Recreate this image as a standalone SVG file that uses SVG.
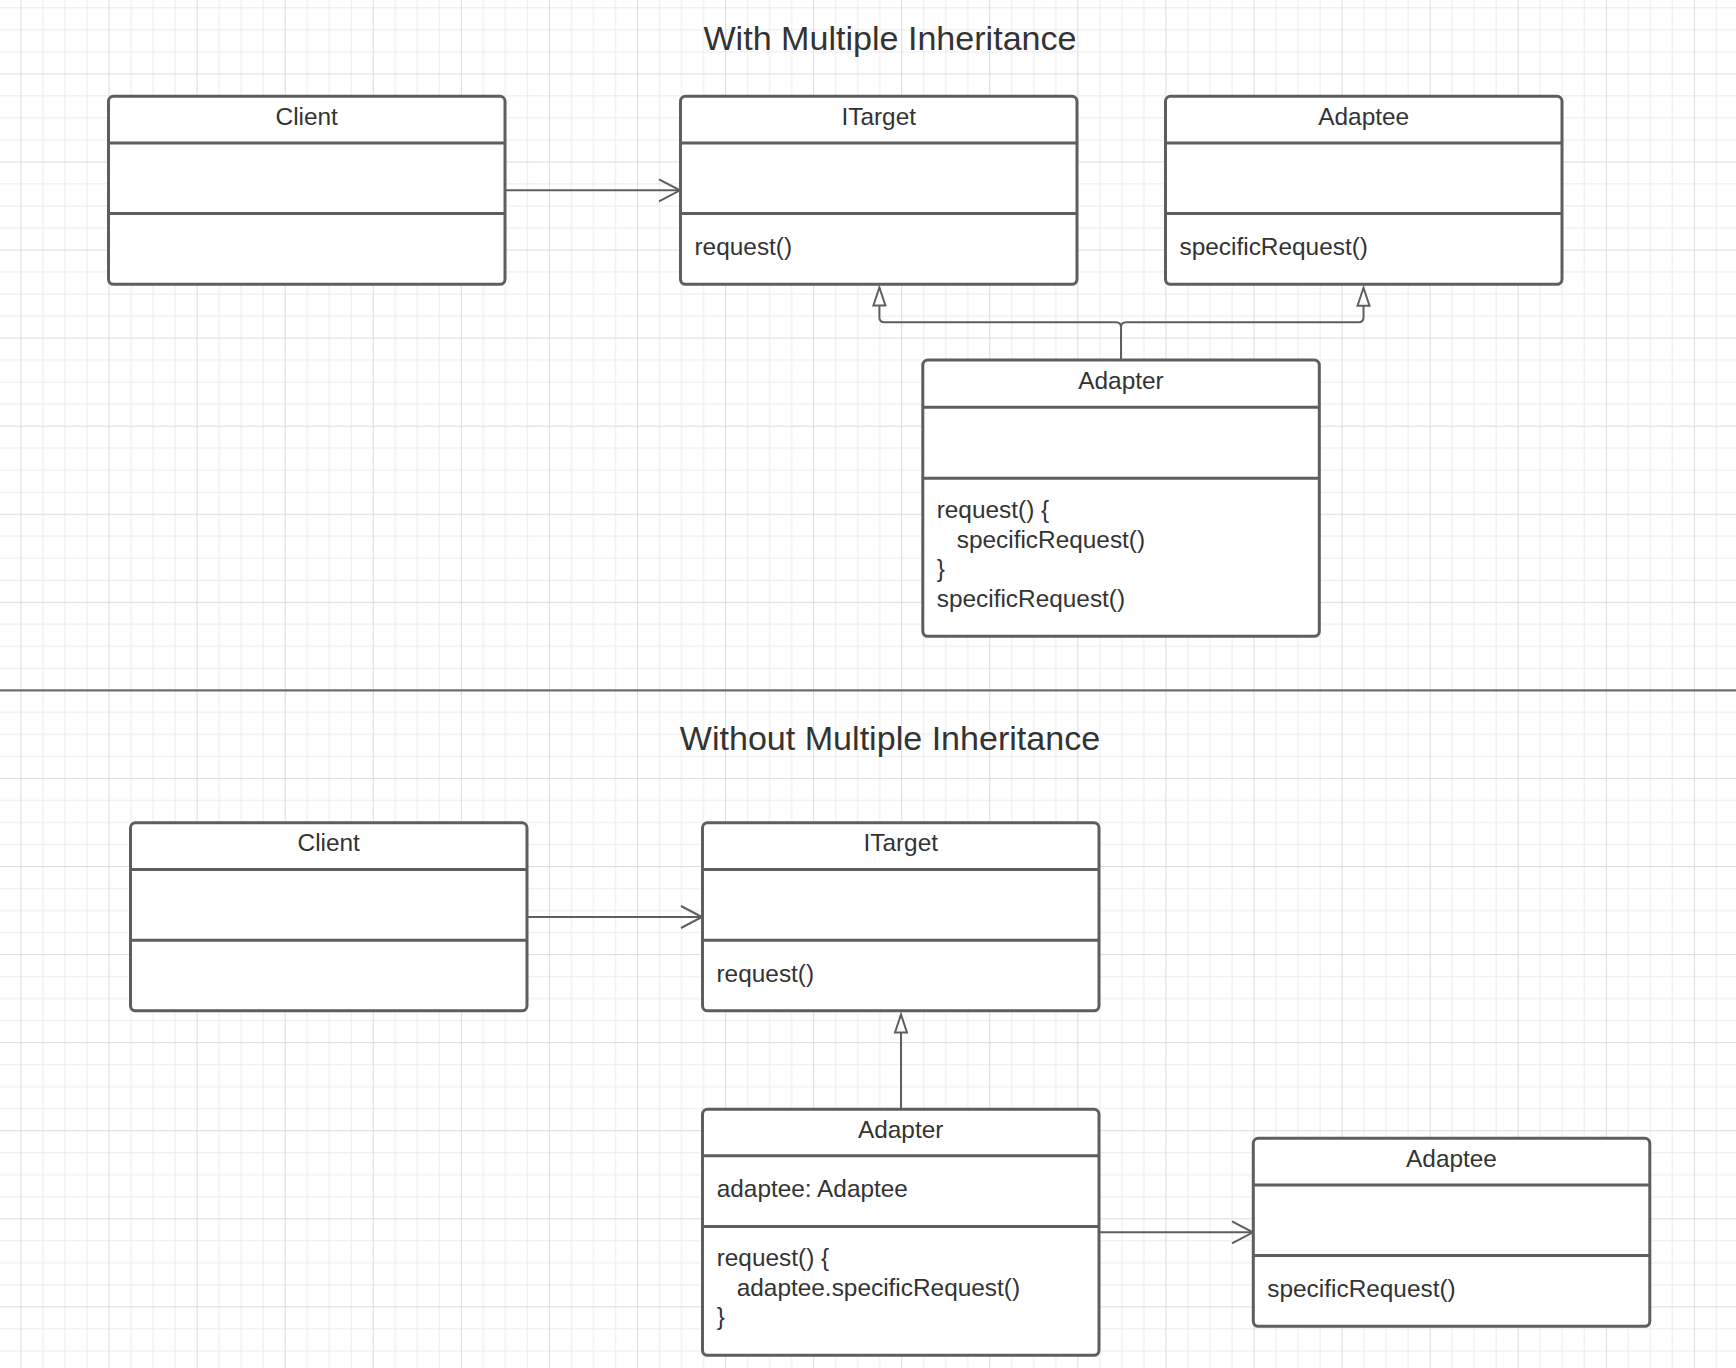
<svg xmlns="http://www.w3.org/2000/svg" width="1736" height="1368" viewBox="0 0 1736 1368">
<style>
  .box { fill: #ffffff; stroke: #5e5e5e; stroke-width: 3; }
  .sep { stroke: #5e5e5e; stroke-width: 3; }
  .hdr { font-family: "Liberation Sans", Arial, sans-serif; font-size: 24.4px; fill: #333333; text-anchor: middle; }
  .txt { font-family: "Liberation Sans", Arial, sans-serif; font-size: 24.4px; fill: #333333; }
  .title { font-family: "Liberation Sans", Arial, sans-serif; font-size: 34.1px; fill: #333333; text-anchor: middle; }
  .conn { fill: none; stroke: #5e5e5e; stroke-width: 2; }
</style>
<defs>
  <pattern id="grid" patternUnits="userSpaceOnUse" x="20.5" y="-14.7" width="88.07" height="88.07">
    <rect x="0" y="0" width="88.07" height="88.07" fill="#ffffff"/>
    <g fill="#ececec">
      <rect x="22.02" y="0" width="1" height="88.07"/>
      <rect x="44.03" y="0" width="1" height="88.07"/>
      <rect x="66.05" y="0" width="1" height="88.07"/>
      <rect x="0" y="22.02" width="88.07" height="1"/>
      <rect x="0" y="44.03" width="88.07" height="1"/>
      <rect x="0" y="66.05" width="88.07" height="1"/>
    </g>
    <g fill="#dcdcdc">
      <rect x="0" y="0" width="1" height="88.07"/>
      <rect x="0" y="0" width="88.07" height="1"/>
    </g>
  </pattern>
  <marker id="open" viewBox="-25 -15 30 30" refX="0" refY="0" markerWidth="30" markerHeight="30" markerUnits="userSpaceOnUse" orient="auto">
    <path d="M-21,-11 L0,0 L-21,11" fill="none" stroke="#5e5e5e" stroke-width="2"/>
  </marker>
  <marker id="tri" viewBox="-3 -10 26 20" refX="0" refY="0" markerWidth="26" markerHeight="20" markerUnits="userSpaceOnUse" orient="auto">
    <path d="M0,-6 L18,0 L0,6 Z" fill="#ffffff" stroke="#5e5e5e" stroke-width="2" stroke-linejoin="miter"/>
  </marker>
</defs>

<rect x="0" y="0" width="1736" height="1368" fill="url(#grid)"/>

<text class="title" x="890" y="50">With Multiple Inheritance</text>
<line x1="0" y1="690.3" x2="1736" y2="690.3" stroke="#6e6e6e" stroke-width="2.3"/>
<text class="title" x="890" y="749.5">Without Multiple Inheritance</text>

<g id="connectors">
  <path class="conn" d="M505,190.3 H680" marker-end="url(#open)"/>
  <path class="conn" d="M1121,360 V327.3 Q1121,322.3 1116,322.3 H884.4 Q879.4,322.3 879.4,317.3 V305.5" marker-end="url(#tri)"/>
  <path class="conn" d="M1121,360 V327.3 Q1121,322.3 1126,322.3 H1358.5 Q1363.5,322.3 1363.5,317.3 V305.8" marker-end="url(#tri)"/>
  <path class="conn" d="M527,917 H702" marker-end="url(#open)"/>
  <path class="conn" d="M901,1109 V1032.5" marker-end="url(#tri)"/>
  <path class="conn" d="M1099,1232.3 H1253" marker-end="url(#open)"/>
</g>

<g id="client1">
  <rect class="box" x="108.5" y="96.3" width="396.5" height="188" rx="5"/>
  <line class="sep" x1="108.5" y1="143" x2="505" y2="143"/>
  <line class="sep" x1="108.5" y1="213.5" x2="505" y2="213.5"/>
  <text class="hdr" x="306.7" y="125">Client</text>
</g>

<g id="itarget1">
  <rect class="box" x="680.5" y="96.3" width="396.5" height="188" rx="5"/>
  <line class="sep" x1="680.5" y1="143" x2="1077" y2="143"/>
  <line class="sep" x1="680.5" y1="213.5" x2="1077" y2="213.5"/>
  <text class="hdr" x="878.7" y="125">ITarget</text>
  <text class="txt" x="694.5" y="255">request()</text>
</g>

<g id="adaptee1">
  <rect class="box" x="1165.5" y="96.3" width="396.5" height="188" rx="5"/>
  <line class="sep" x1="1165.5" y1="143" x2="1562" y2="143"/>
  <line class="sep" x1="1165.5" y1="213.5" x2="1562" y2="213.5"/>
  <text class="hdr" x="1363.7" y="125">Adaptee</text>
  <text class="txt" x="1179.5" y="255">specificRequest()</text>
</g>

<g id="adapter1">
  <rect class="box" x="922.8" y="360" width="396.5" height="276.3" rx="5"/>
  <line class="sep" x1="922.8" y1="407.3" x2="1319.3" y2="407.3"/>
  <line class="sep" x1="922.8" y1="478.3" x2="1319.3" y2="478.3"/>
  <text class="hdr" x="1121" y="388.5">Adapter</text>
  <text class="txt" x="936.7" y="518">request() {</text>
  <text class="txt" x="956.7" y="547.5">specificRequest()</text>
  <text class="txt" x="936.7" y="577">}</text>
  <text class="txt" x="936.7" y="606.5">specificRequest()</text>
</g>

<g id="client2">
  <rect class="box" x="130.5" y="822.8" width="396.5" height="188" rx="5"/>
  <line class="sep" x1="130.5" y1="869.6" x2="527" y2="869.6"/>
  <line class="sep" x1="130.5" y1="940.2" x2="527" y2="940.2"/>
  <text class="hdr" x="328.7" y="851.3">Client</text>
</g>

<g id="itarget2">
  <rect class="box" x="702.5" y="822.8" width="396.5" height="188" rx="5"/>
  <line class="sep" x1="702.5" y1="869.6" x2="1099" y2="869.6"/>
  <line class="sep" x1="702.5" y1="940.2" x2="1099" y2="940.2"/>
  <text class="hdr" x="900.7" y="851.3">ITarget</text>
  <text class="txt" x="716.5" y="982">request()</text>
</g>

<g id="adapter2">
  <rect class="box" x="702.5" y="1109.3" width="396.5" height="246" rx="5"/>
  <line class="sep" x1="702.5" y1="1155.8" x2="1099" y2="1155.8"/>
  <line class="sep" x1="702.5" y1="1226.5" x2="1099" y2="1226.5"/>
  <text class="hdr" x="900.7" y="1137.5">Adapter</text>
  <text class="txt" x="716.7" y="1197">adaptee: Adaptee</text>
  <text class="txt" x="716.7" y="1266">request() {</text>
  <text class="txt" x="736.7" y="1295.5">adaptee.specificRequest()</text>
  <text class="txt" x="716.7" y="1325">}</text>
</g>

<g id="adaptee2">
  <rect class="box" x="1253.3" y="1138.3" width="396.5" height="188" rx="5"/>
  <line class="sep" x1="1253.3" y1="1185" x2="1649.8" y2="1185"/>
  <line class="sep" x1="1253.3" y1="1255.5" x2="1649.8" y2="1255.5"/>
  <text class="hdr" x="1451.5" y="1166.5">Adaptee</text>
  <text class="txt" x="1267.3" y="1297">specificRequest()</text>
</g>
</svg>
